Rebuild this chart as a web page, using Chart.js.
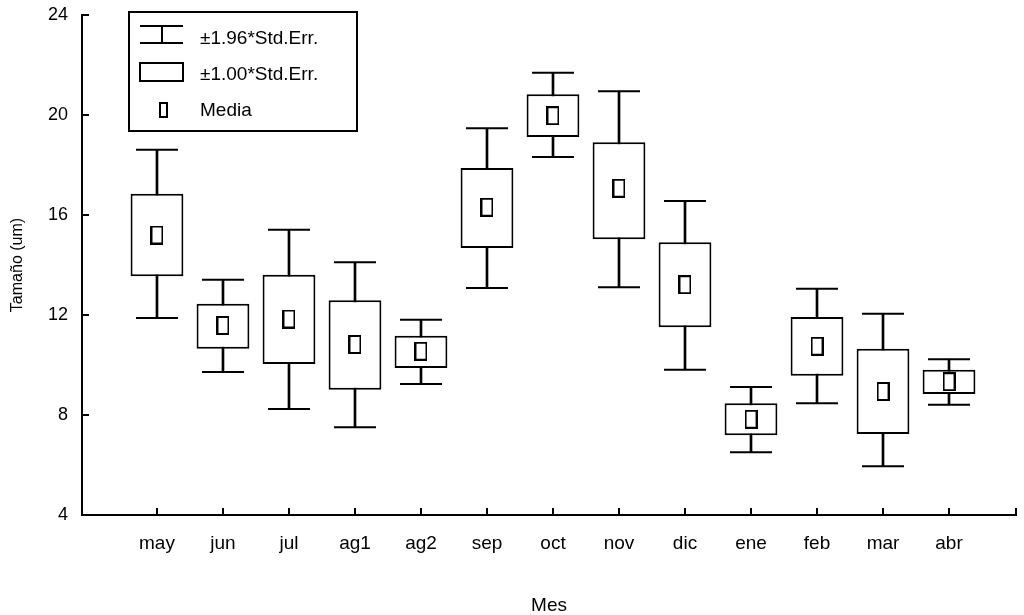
<!DOCTYPE html>
<html>
<head>
<meta charset="utf-8">
<script src="https://cdn.jsdelivr.net/npm/chart.js@4/dist/chart.umd.min.js"></script>
<style>
  body { margin: 0; background: #fff; }
</style>
</head>
<body>
<canvas id="boxChart" width="1024" height="615"></canvas>
<script>
// months on the x axis
const months = ["may", "jun", "jul", "ag1", "ag2", "sep", "oct", "nov", "dic", "ene", "feb", "mar", "abr"];
const yTicks = [4, 8, 12, 16, 20, 24];

// Media, +-1.00*Std.Err. and +-1.96*Std.Err.
const means = [15.2, 11.58, 11.84, 10.82, 10.55, 16.31, 19.97, 17.07, 13.21, 7.83, 10.75, 8.94, 9.33];
const seLow = [13.55, 10.65, 10.04, 9.01, 9.88, 14.68, 19.12, 15.03, 11.51, 7.19, 9.57, 7.24, 8.84];
const seHigh = [16.85, 12.45, 13.61, 12.59, 11.17, 17.88, 20.83, 18.91, 14.91, 8.47, 11.92, 10.65, 9.81];
const ciLow = [11.88, 9.72, 8.24, 7.51, 9.24, 13.08, 18.32, 13.11, 9.81, 6.51, 8.47, 5.95, 8.41];
const ciHigh = [18.61, 13.41, 15.41, 14.11, 11.81, 19.47, 21.69, 20.95, 16.56, 9.12, 13.05, 12.05, 10.23];

const legendLabels = ["±1.96*Std.Err.", "±1.00*Std.Err.", "Media"];

const FONT = "'Liberation Sans', Arial, Helvetica, sans-serif";

// hollow rectangle used for the mean marker
const meanMark = document.createElement("canvas");
meanMark.width = 13;
meanMark.height = 19;
const mctx = meanMark.getContext("2d");
mctx.strokeStyle = "#000";
mctx.lineWidth = 2;
mctx.strokeRect(1, 1, 11, 17);

const pts = (arr) => arr.map((y, i) => ({ x: i, y }));
const ranges = (lo, hi) => lo.map((v, i) => ({ x: i, y: [v, hi[i]] }));

// legend drawn inside the plot, framed like the original
const boxLegend = {
  id: "boxLegend",
  afterDraw(chart) {
    const { ctx, chartArea } = chart;
    const L = chartArea.left + 47;
    const T = chartArea.top - 3;
    ctx.save();
    ctx.fillStyle = "#fff";
    ctx.fillRect(L, T, 228, 119);
    ctx.strokeStyle = "#000";
    ctx.lineWidth = 2;
    ctx.strokeRect(L, T, 228, 119);

    // whisker icon
    ctx.beginPath();
    ctx.moveTo(L + 11, T + 14); ctx.lineTo(L + 54, T + 14);
    ctx.moveTo(L + 11, T + 31); ctx.lineTo(L + 54, T + 31);
    ctx.moveTo(L + 33, T + 14); ctx.lineTo(L + 33, T + 31);
    ctx.stroke();
    // box icon
    ctx.strokeRect(L + 11, T + 51, 43, 18);
    // mean icon
    ctx.strokeRect(L + 31, T + 91, 7, 14);

    ctx.fillStyle = "#000";
    ctx.font = "19px " + FONT;
    ctx.textBaseline = "middle";
    ctx.textAlign = "left";
    legendLabels.forEach((t, i) => ctx.fillText(t, L + 71, T + 27 + i * 36));
    ctx.restore();
  },
};

const ctx = document.getElementById("boxChart").getContext("2d");

new Chart(ctx, {
  type: "bar",
  data: {
    datasets: [
      {
        type: "scatter",
        label: "Media",
        data: pts(means),
        pointStyle: meanMark,
        order: 0,
      },
      {
        label: "±1.00*Std.Err.",
        data: ranges(seLow, seHigh),
        backgroundColor: "#fff",
        borderColor: "#000",
        borderWidth: 2,
        borderSkipped: false,
        grouped: false,
        barPercentage: 1,
        categoryPercentage: 0.8,
        order: 1,
      },
      {
        type: "scatter",
        label: "cap hi",
        data: pts(ciHigh),
        pointStyle: "line",
        radius: 21,
        borderColor: "#000",
        borderWidth: 2,
        order: 2,
      },
      {
        type: "scatter",
        label: "cap lo",
        data: pts(ciLow),
        pointStyle: "line",
        radius: 21,
        borderColor: "#000",
        borderWidth: 2,
        order: 2,
      },
      {
        label: "±1.96*Std.Err.",
        data: ranges(ciLow, ciHigh),
        backgroundColor: "#000",
        borderWidth: 0,
        grouped: false,
        barThickness: 2,
        order: 3,
      },
    ],
  },
  options: {
    responsive: false,
    animation: false,
    devicePixelRatio: 1,
    layout: { autoPadding: false, padding: { top: 15, right: 8, left: 0, bottom: 0 } },
    plugins: {
      legend: { display: false },
      tooltip: { enabled: false },
    },
    scales: {
      x: {
        type: "linear",
        offset: false,
        min: -1.136,
        max: 13.015,
        afterBuildTicks: (s) => {
          s.ticks = months.map((m, i) => ({ value: i }));
          s.ticks.push({ value: 13.015 });
        },
        afterFit: (s) => {
          s.height = 100;
          s.paddingLeft = 0;
          s.paddingRight = 0;
        },
        ticks: {
          color: "#000",
          font: { family: FONT, size: 19 },
          padding: 24,
          maxRotation: 0,
          autoSkip: false,
          callback: (v) => months[v] || "",
        },
        grid: { offset: false, drawOnChartArea: false, drawTicks: true, tickLength: -7, color: "#000", lineWidth: 2 },
        border: { display: true, color: "#000", width: 2 },
        title: {
          display: true,
          text: "Mes",
          color: "#000",
          font: { family: FONT, size: 19 },
          padding: { top: 0, bottom: -2 },
        },
      },
      y: {
        min: 4,
        max: 24,
        afterBuildTicks: (s) => { s.ticks = yTicks.map((v) => ({ value: v })); },
        afterFit: (s) => {
          s.width = 82;
          s.paddingTop = 0;
          s.paddingBottom = 0;
        },
        ticks: {
          color: "#000",
          font: { family: FONT, size: 18 },
          padding: 21,
        },
        grid: { drawOnChartArea: false, drawTicks: true, tickLength: -7, color: "#000", lineWidth: 2 },
        border: { display: true, color: "#000", width: 2 },
        title: {
          display: true,
          text: "Tamaño (um)",
          color: "#000",
          font: { family: FONT, size: 16 },
          padding: { top: 8, bottom: 0 },
        },
      },
    },
  },
  plugins: [boxLegend],
});
</script>
</body>
</html>
